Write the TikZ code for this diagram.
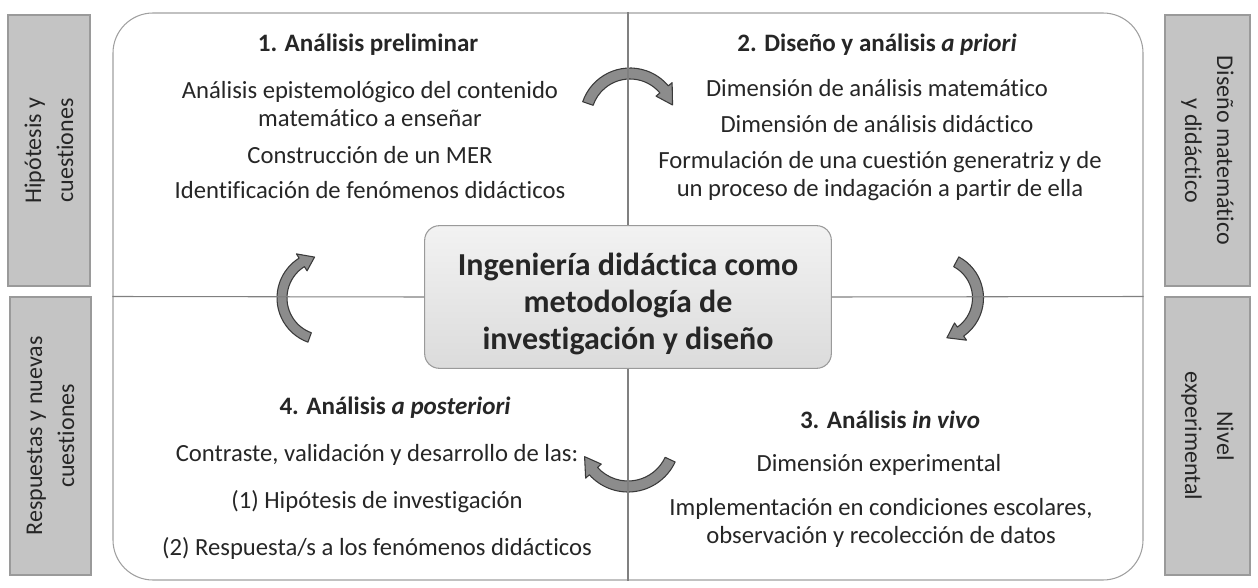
\documentclass[tikz,border=0pt]{standalone}
\usepackage{fontspec}
\setmainfont{Carlito}[Ligatures=NoCommon]
\definecolor{arrowfill}{HTML}{8C8C8C}
\definecolor{arrowline}{HTML}{3A3A3A}
\definecolor{tabfill}{HTML}{C4C4C4}
\definecolor{tabline}{HTML}{9A9A9A}
\definecolor{frameline}{HTML}{A0A0A0}
\definecolor{divline}{HTML}{808080}
\definecolor{txt}{HTML}{262626}
\newcommand{\blockarc}[8]{%
  \filldraw[curvarrow] ([shift={(#1,#2)}]{#5}:{#3+#4}) arc[start angle=#5, end angle=#6, radius=#3+#4]
   -- ([shift={(#1,#2)}]{#6}:{#3+#4+#8}) -- ([shift={(#1,#2)}]{#7}:{#3})
   -- ([shift={(#1,#2)}]{#6}:{#3-#4-#8}) -- ([shift={(#1,#2)}]{#6}:{#3-#4})
   arc[start angle=#6, end angle=#5, radius=#3-#4] -- cycle;}
\begin{document}
\begin{tikzpicture}[x=0.75pt,y=-0.75pt,
  frame/.style={draw=frameline,line width=0.8pt,rounded corners=30pt,inner sep=0pt},
  divider/.style={draw=divline,line width=0.8pt},
  tab/.style={draw=tabline,fill=tabfill,line width=0.8pt,inner sep=0pt,align=center,text=txt,
    font=\fontsize{18}{24}\selectfont},
  centerbox/.style={draw=tabline,line width=0.8pt,rounded corners=11pt,top color=gray!10,bottom color=gray!28,
    minimum width=305pt,minimum height=107pt,inner sep=0pt},
  coretext/.style={align=center,text=txt,font=\bfseries\fontsize{24}{27.8}\selectfont},
  curvarrow/.style={draw=arrowline,fill=arrowfill,line width=0.8pt,line join=round},
  head/.style={align=center,text=txt,font=\bfseries\fontsize{18.8}{21}\selectfont},
  body/.style={align=center,text=txt,font=\fontsize{18.5}{21}\selectfont}]
\useasboundingbox (0,0) rectangle (1258,588);

% main frame
\node[frame,minimum width=772.5pt,minimum height=425.25pt] (main) at (628,296.5) {};

% side tabs
\node[tab,rotate=90,minimum width=203.25pt,minimum height=61.5pt] (tabHC) at (49,150.5) {Hipótesis y\\cuestiones};
\node[tab,rotate=90,minimum width=208.5pt,minimum height=60.75pt] (tabRN) at (50.5,436) {Respuestas y nuevas\\cuestiones};
\node[tab,rotate=-90,minimum width=203.25pt,minimum height=63.75pt] (tabDM) at (1207.5,150.5) {Diseño matemático\\y didáctico};
\node[tab,rotate=-90,minimum width=208.5pt,minimum height=63.75pt] (tabNE) at (1207.5,436) {Nivel\\experimental};

% curved arrows (clockwise cycle)
\blockarc{630}{118}{44.5}{5.5}{-161}{-40}{-17}{5}
\blockarc{937}{298}{41}{5.5}{-62}{55}{76}{5}
\blockarc{628}{440}{46.5}{5.5}{25}{138}{159}{5}
\blockarc{324}{298}{42}{5}{110}{238}{257}{5}

% center box
\node[centerbox] (core) at (628,297) {};
\node[coretext] (coretxt) at (628,304) {Ingeniería didáctica como\\metodología de\\investigación y diseño};

% dividers
\draw[divider] (main.north) -- (core.north);
\draw[divider] (core.south) -- (main.south);
\draw[divider] (main.west) -- (core.west);
\draw[divider] (core.east) -- (main.east);

% quadrant 1
\node[head] (h1) at (368,45) {1. Análisis preliminar};
\node[body] (q1a) at (370,104) {Análisis epistemológico del contenido\\matemático a enseñar};
\node[body] (q1b) at (370,155) {Construcción de un MER};
\node[body] (q1c) at (370,190) {Identificación de fenómenos didácticos};

% quadrant 2
\node[head] (h2) at (877,45) {2. Diseño y análisis \textit{a priori}};
\node[body] (q2a) at (877,88) {Dimensión de análisis matemático};
\node[body] (q2b) at (877,124) {Dimensión de análisis didáctico};
\node[body] (q2c) at (880,176) {Formulación de una cuestión generatriz y de\\un proceso de indagación a partir de ella};

% quadrant 3
\node[head] (h3) at (890,420) {3. Análisis \textit{in vivo}};
\node[body] (q3a) at (879,465) {Dimensión experimental};
\node[body] (q3b) at (881,523) {Implementación en condiciones escolares,\\observación y recolección de datos};

% quadrant 4
\node[head] (h4) at (395,408) {4. Análisis \textit{a posteriori}};
\node[body] (q4a) at (377,455) {Contraste, validación y desarrollo de las:};
\node[body] (q4b) at (377,502) {(1) Hipótesis de investigación};
\node[body] (q4c) at (377,548) {(2) Respuesta/s a los fenómenos didácticos};
\end{tikzpicture}
\end{document}
